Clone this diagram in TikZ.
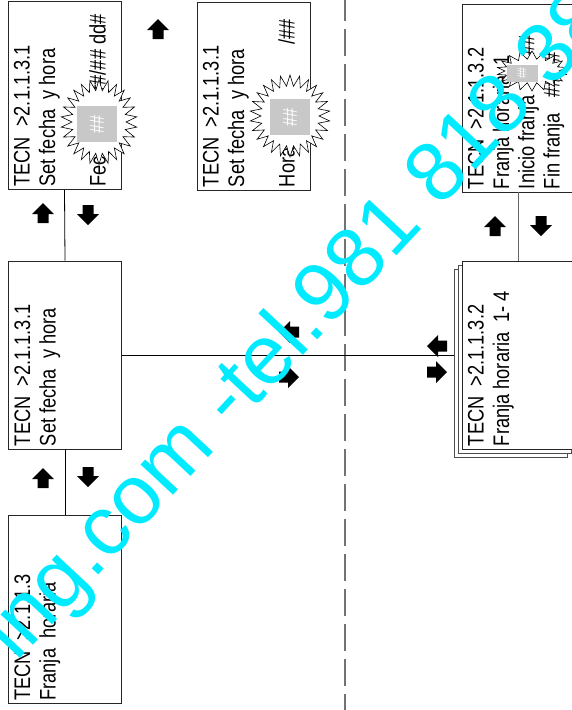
\documentclass[tikz,border=0pt]{standalone}
\usepackage{fontspec}
\setmainfont[FakeStretch=0.81]{Liberation Sans}
\newfontfamily\wmfont{Liberation Sans}
\usetikzlibrary{shapes.symbols,shadows}
\definecolor{wmcyan}{RGB}{0,235,255}
\definecolor{cursorgray}{RGB}{200,200,200}
\tikzset{
  menubox/.style={draw=black!85,fill=white,minimum width=188pt,minimum height=113pt,rotate=90,inner sep=0pt},
  menutext/.style={rotate=90,anchor=north west,align=left,inner xsep=3pt,inner ysep=6pt,font=\fontsize{22.5}{25.3}\selectfont},
  burst/.style={starburst,draw,fill=white,line width=0.6pt,starburst points=26,starburst point height=11pt,random starburst=0,inner sep=0pt},
  cursor/.style={fill=cursorgray,text=white,rotate=90,minimum width=36pt,minimum height=40pt,inner sep=0pt,font=\fontsize{20}{20}\selectfont},
  watermark/.style={text=wmcyan,rotate=47,inner sep=0pt,font=\wmfont\fontsize{84}{84}\selectfont},
  fatarrow/.pic={\fill (-10,-5.5)--(-1,-5.5)--(-1,-11)--(10,0)--(-1,11)--(-1,5.5)--(-10,5.5)--cycle;}
}
\begin{document}
\begin{tikzpicture}[x=1pt,y=-1pt,line width=0.8pt]
\useasboundingbox (0,0) rectangle (572,710);

% divider
\coordinate (divtop) at (345,0);
\coordinate (divbot) at (345,710);
\draw[black!55,line width=1.3pt,dash pattern=on 27pt off 8pt,dash phase=6pt] (divtop) -- (divbot);

% menu boxes
\node[menubox] (fecha1) at (64.5,95.5) {};
\node[menubox] (fecha2) at (253.5,96) {};
\node[menubox] (setfecha) at (65,355) {};
\node[menubox] (franja) at (65,609.5) {};
\node[menubox] (franjaed) at (518.5,98) {};
\node[menubox,double copy shadow={shadow xshift=-4pt,shadow yshift=-4pt,draw=black!70}] (franjasel) at (518.5,355) {};
\coordinate (franjaleft) at (454,355);

\node[menutext] (fecha1txt) at (fecha1.north west) {TECN\ \ >2.1.1.3.1\\Set fecha\ \ y hora\\~\\Fecha\ \ \ \#\#/\#\#/\#\# dd\#};
\node[menutext] (fecha2txt) at (fecha2.north west) {TECN\ \ >2.1.1.3.1\\Set fecha\ \ y hora\\~\\Hora\ \ \#\#:\#\#\hspace{47pt}/\#\#};
\node[menutext] (setfechatxt) at (setfecha.north west) {TECN\ \ >2.1.1.3.1\\Set fecha\ \ y hora};
\node[menutext] (franjatxt) at (franja.north west) {TECN\ \ >2.1.1.3\\Franja\ \ horaria};
\node[menutext] (franjaedtxt) at (franjaed.north west) {TECN\ \ >2.1.1.3.2\\Franja horaria\ \ 1\\Inicio franja\ \ \ \#\#:\#\#\\Fin franja\ \ \ \#\#:\#\#};
\node[menutext] (franjaseltxt) at (franjasel.north west) {TECN\ \ >2.1.1.3.2\\Franja horaria\ \ 1- 4};

% blinking cursors
\node[burst,minimum width=76pt,minimum height=85pt] (burst1) at (99,122) {};
\node[cursor] (cur1) at (97,124) {\#\#};
\node[burst,minimum width=80pt,minimum height=82pt] (burst2) at (290,116) {};
\node[cursor] (cur2) at (290,117) {\#\#};
\node[burst,starburst points=18,starburst point height=8pt,minimum width=70pt,minimum height=40pt] (burst3) at (532,71) {};
\node[cursor,minimum width=17pt,minimum height=31pt,font=\fontsize{13}{13}\selectfont] (cur3) at (522,73) {\#\#};

% connectors
\draw (fecha1.west) -- (setfecha.east);
\draw (setfecha.west) -- (franja.east);
\draw (setfecha.south) -- (franjaleft);
\draw[black!60] (franjaed.west) -- (franjasel.east);

% keys
\pic[rotate=90] at (43,213) {fatarrow};
\pic[rotate=-90] at (88,215) {fatarrow};
\pic[rotate=90] at (43,478) {fatarrow};
\pic[rotate=-90] at (88,477) {fatarrow};
\pic[rotate=90] at (158,29) {fatarrow};
\pic[rotate=90] at (495,226) {fatarrow};
\pic[rotate=-90] at (541,226) {fatarrow};
\pic[rotate=180] at (289,332) {fatarrow};
\pic at (289,377) {fatarrow};
\pic[rotate=180] at (437,346) {fatarrow};
\pic at (437,372) {fatarrow};

\node[watermark] (wm) at (316,310) {ing.com -tel.981 818 383};
\end{tikzpicture}
\end{document}
